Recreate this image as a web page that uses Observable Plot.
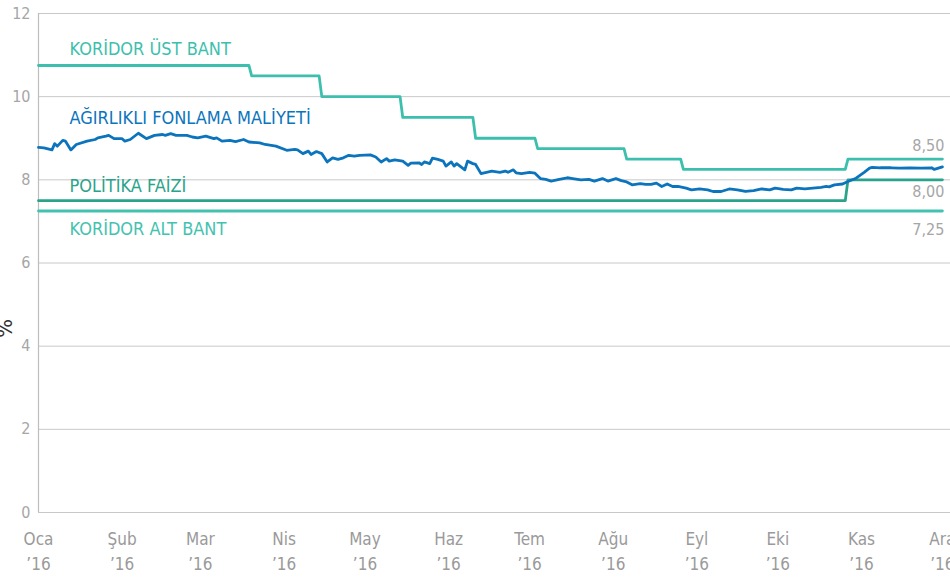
<!DOCTYPE html>
<html>
<head>
<meta charset="utf-8">
<script src="https://cdn.jsdelivr.net/npm/d3@7"></script>
<script src="https://cdn.jsdelivr.net/npm/@observablehq/plot@0.6"></script>
<style>
  html, body { margin: 0; padding: 0; background: #fff; }
  #chart { width: 950px; height: 580px; overflow: hidden; }
</style>
</head>
<body>
<div id="chart"></div>
<script>
// ---- Data ----
const startDate = "2016-01-01";
const endDate = "2016-12-01";
const domainEnd = "2016-12-04";

const monthTicks = ["2016-01-01","2016-02-01","2016-03-01","2016-04-01","2016-05-01","2016-06-01",
                    "2016-07-01","2016-08-01","2016-09-01","2016-10-01","2016-11-01","2016-12-01"];
const monthNames = ["Oca","Şub","Mar","Nis","May","Haz","Tem","Ağu","Eyl","Eki","Kas","Ara"];
const yearLabel = "’16";
const yTicks = [0, 2, 4, 6, 8, 10, 12];

// Koridor üst bant (step changes)
const upperChangeDates = ["2016-03-20","2016-04-15","2016-05-15","2016-06-11","2016-07-04","2016-08-06","2016-08-27","2016-10-27"];
const upperLevels = [10.75, 10.5, 10.0, 9.5, 9.0, 8.75, 8.5, 8.25, 8.5];

// Politika faizi
const policyChangeDates = ["2016-10-27"];
const policyLevels = [7.5, 8.0];

// Koridor alt bant
const lowerChangeDates = [];
const lowerLevels = [7.25];

// Ağırlıklı fonlama maliyeti
const fundingDates = [
"2016-01-01","2016-01-03","2016-01-06","2016-01-07","2016-01-08","2016-01-10","2016-01-11","2016-01-13","2016-01-15","2016-01-19",
"2016-01-22","2016-01-23","2016-01-26","2016-01-27","2016-01-29","2016-02-01","2016-02-02","2016-02-04","2016-02-07","2016-02-10",
"2016-02-13","2016-02-16","2016-02-17","2016-02-19","2016-02-21","2016-02-25","2016-02-27","2016-02-29","2016-03-03","2016-03-06",
"2016-03-07","2016-03-09","2016-03-12","2016-03-14","2016-03-17","2016-03-19","2016-03-23","2016-03-25","2016-03-29","2016-04-02",
"2016-04-05","2016-04-06","2016-04-08","2016-04-10","2016-04-11","2016-04-13","2016-04-15","2016-04-17","2016-04-19","2016-04-21",
"2016-04-23","2016-04-25","2016-04-27","2016-04-29","2016-05-03","2016-05-05","2016-05-07","2016-05-09","2016-05-10","2016-05-12",
"2016-05-15","2016-05-17","2016-05-18","2016-05-21","2016-05-22","2016-05-23","2016-05-25","2016-05-26","2016-05-28","2016-05-30",
"2016-05-31","2016-06-02","2016-06-03","2016-06-04","2016-06-07","2016-06-08","2016-06-10","2016-06-11","2016-06-13","2016-06-15",
"2016-06-17","2016-06-20","2016-06-22","2016-06-23","2016-06-25","2016-06-26","2016-06-28","2016-07-01","2016-07-03","2016-07-05",
"2016-07-07","2016-07-09","2016-07-12","2016-07-15","2016-07-17","2016-07-20","2016-07-23","2016-07-25","2016-07-28","2016-07-30",
"2016-08-02","2016-08-04","2016-08-06","2016-08-08","2016-08-11","2016-08-13","2016-08-15","2016-08-17","2016-08-19","2016-08-21",
"2016-08-23","2016-08-25","2016-08-28","2016-08-30","2016-09-02","2016-09-05","2016-09-07","2016-09-10","2016-09-13","2016-09-16",
"2016-09-19","2016-09-22","2016-09-25","2016-09-28","2016-09-30","2016-10-03","2016-10-06","2016-10-08","2016-10-11","2016-10-14",
"2016-10-17","2016-10-19","2016-10-20","2016-10-22","2016-10-25","2016-10-27","2016-10-30","2016-11-02","2016-11-04","2016-11-05",
"2016-11-08","2016-11-12","2016-11-15","2016-11-19","2016-11-23","2016-11-27","2016-11-28","2016-12-01"
];
const fundingValues = [
8.78,8.77,8.72,8.87,8.81,8.95,8.93,8.72,8.85,8.93,
8.97,9.01,9.05,9.07,8.99,8.99,8.93,8.97,9.12,8.99,
9.07,9.09,9.07,9.11,9.07,9.07,9.03,9.01,9.05,8.99,
9.01,8.93,8.95,8.92,8.97,8.91,8.89,8.85,8.81,8.71,
8.73,8.72,8.63,8.69,8.61,8.68,8.63,8.43,8.53,8.49,
8.53,8.59,8.57,8.59,8.60,8.55,8.43,8.51,8.45,8.48,
8.45,8.35,8.40,8.41,8.37,8.43,8.39,8.52,8.49,8.45,
8.33,8.43,8.33,8.39,8.24,8.45,8.39,8.37,8.15,8.18,
8.21,8.18,8.21,8.18,8.24,8.17,8.15,8.18,8.16,8.03,
8.01,7.97,8.01,8.05,8.03,8.00,8.01,7.97,8.03,7.97,
8.03,7.98,7.95,7.88,7.91,7.89,7.89,7.92,7.84,7.90,
7.84,7.84,7.80,7.76,7.78,7.76,7.72,7.72,7.78,7.76,
7.72,7.74,7.78,7.76,7.80,7.77,7.76,7.80,7.78,7.80,
7.82,7.84,7.83,7.88,7.90,7.96,8.04,8.18,8.28,8.30,
8.29,8.29,8.28,8.29,8.28,8.29,8.25,8.31
];

const endLabelValues = [8.5, 8.0, 7.25];
const seriesNames = ["KORİDOR ÜST BANT", "AĞIRLIKLI FONLAMA MALİYETİ", "POLİTİKA FAİZİ", "KORİDOR ALT BANT"];
const axisTitle = "%";

// ---- Build tables ----
const parse = s => new Date(s + "T00:00:00Z");
const DAY = 864e5;
function stepSeries(changes, levels) {
  const pts = [{date: parse(startDate), value: levels[0]}];
  changes.forEach((c, i) => {
    const d = parse(c);
    pts.push({date: new Date(+d - DAY), value: levels[i]});
    pts.push({date: d, value: levels[i + 1]});
  });
  pts.push({date: parse(endDate), value: levels[levels.length - 1]});
  return pts;
}
const upper = stepSeries(upperChangeDates, upperLevels);
const policy = stepSeries(policyChangeDates, policyLevels);
const lower = stepSeries(lowerChangeDates, lowerLevels);
const funding = fundingDates.map((d, i) => ({date: parse(d), value: fundingValues[i]}));

const cUpper = "#3dbfad", cLower = "#43c2b0", cPolicy = "#2aa38b", cBlue = "#0b74bd";
const font = "'DejaVu Sans Condensed', 'Liberation Sans Narrow', sans-serif";
const gray = "#a6a6a6";

const fmt = v => v.toFixed(2).replace(".", ",");
const labelStart = parse(startDate);
const endDy = [-13, 12, 19];
const labelOpts = {x: labelStart, dx: 31, textAnchor: "start", fontSize: 18, fontFamily: font};

const chart = Plot.plot({
  width: 950,
  height: 580,
  marginTop: 13,
  marginBottom: 68,
  marginLeft: 38,
  marginRight: 0,
  style: {fontFamily: font, background: "#fff", overflow: "hidden"},
  x: {type: "utc", domain: [parse(startDate), parse(domainEnd)]},
  y: {domain: [0, 12]},
  marks: [
    Plot.gridY(yTicks, {stroke: "#c8c8c8", strokeOpacity: 1, strokeWidth: 1}),
    Plot.ruleX([parse(startDate)], {stroke: "#bdbdbd", strokeWidth: 1.2}),
    Plot.axisY(yTicks, {tickSize: 0, tickPadding: 8, fontSize: 16, fill: gray, color: gray, label: null}),
    Plot.axisX(monthTicks.map(parse), {
      tickSize: 0, tickPadding: 14, fontSize: 17, fill: "#9a9a9a", lineHeight: 1.5, label: null,
      tickFormat: (d, i) => monthNames[i] + "\n" + yearLabel
    }),
    Plot.lineY(lower, {x: "date", y: "value", stroke: cLower, strokeWidth: 2.8}),
    Plot.lineY(policy, {x: "date", y: "value", stroke: cPolicy, strokeWidth: 2.8}),
    Plot.lineY(upper, {x: "date", y: "value", stroke: cUpper, strokeWidth: 2.8}),
    Plot.lineY(funding, {x: "date", y: "value", stroke: cBlue, strokeWidth: 2.8, strokeLinejoin: "round"}),
    // Series labels
    Plot.text([seriesNames[0]], {...labelOpts, y: upperLevels[0], dy: -16, fill: cUpper}),
    Plot.text([seriesNames[1]], {...labelOpts, y: fundingValues[0], dy: -29, fill: cBlue}),
    Plot.text([seriesNames[2]], {...labelOpts, y: policyLevels[0], dy: -14, fill: cPolicy}),
    Plot.text([seriesNames[3]], {...labelOpts, y: lowerLevels[0], dy: 18.5, fill: cLower}),
    // End value labels
    ...endLabelValues.map((v, i) => Plot.text([v], {x: parse(endDate), y: d => d, text: fmt, dy: endDy[i], dx: 2,
      textAnchor: "end", fill: gray, fontSize: 16})),
    // Axis title (mostly outside the frame)
    Plot.text([axisTitle], {frameAnchor: "left", y: 4.2, dx: -34, rotate: -90, fontSize: 22, fill: "#333"})
  ]
});
document.getElementById("chart").appendChild(chart);
</script>
</body>
</html>
